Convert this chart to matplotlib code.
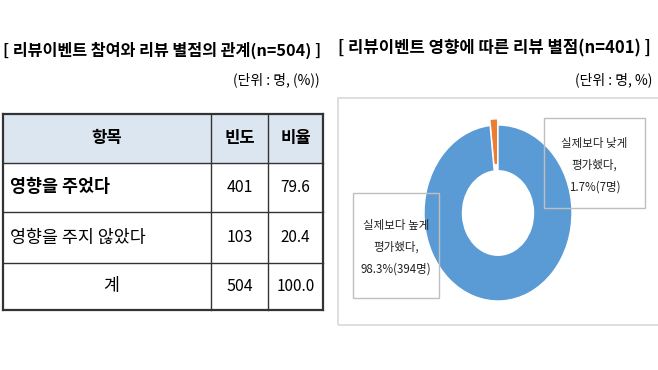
import matplotlib
matplotlib.use('Agg')
import matplotlib.pyplot as plt
from matplotlib.patches import Rectangle

plt.rcParams['font.family'] = ['Noto Sans CJK KR', 'DejaVu Sans']

# 표 데이터
table_header = ['항목', '빈도', '비율']
items = ['영향을 주었다', '영향을 주지 않았다', '계']
freq = [401, 103, 504]
ratio = [79.6, 20.4, 100.0]

# 도넛 데이터
pie_labels = ['실제보다 낮게\n평가했다,', '실제보다 높게\n평가했다,']
pie_pct = [1.7, 98.3]
pie_n = [7, 394]
pie_colors = ['#ed7d31', '#5b9bd5']

W, H = 658, 370
fig = plt.figure(figsize=(W / 100, H / 100), dpi=100)


def fx(x):
    return x / W


def fy(y):
    return 1 - y / H


# %% 제목
fig.text(fx(3), fy(50), '[ 리뷰이벤트 참여와 리뷰 별점의 관계(n=504) ]',
         fontsize=11.7, fontweight='bold', ha='left', va='center')
fig.text(fx(320), fy(80), '(단위 : 명, (%))', fontsize=10, ha='right', va='center')
fig.text(fx(338), fy(48), '[ 리뷰이벤트 영향에 따른 리뷰 별점(n=401) ]',
         fontsize=12, fontweight='bold', ha='left', va='center')
fig.text(fx(652), fy(80), '(단위 : 명, %)', fontsize=10, ha='right', va='center')

# %% 표
rows_y = [114, 163, 212, 263, 310]
cols_x = [3, 211, 268, 323]
ax_t = fig.add_axes([fx(cols_x[0]), fy(rows_y[-1]),
                     (cols_x[-1] - cols_x[0]) / W, (rows_y[-1] - rows_y[0]) / H])
ax_t.set_xlim(cols_x[0], cols_x[-1])
ax_t.set_ylim(rows_y[-1], rows_y[0])
ax_t.axis('off')
ax_t.add_patch(Rectangle((cols_x[0], rows_y[0]), cols_x[-1] - cols_x[0],
                         rows_y[1] - rows_y[0], color='#dce6f1', zorder=0))
for i, y in enumerate(rows_y):
    lw = 1.6 if i in (0, len(rows_y) - 1) else 1.0
    ax_t.plot([cols_x[0], cols_x[-1]], [y, y], color='#333333', lw=lw, clip_on=False)
for i, x in enumerate(cols_x):
    lw = 1.6 if i in (0, len(cols_x) - 1) else 1.0
    ax_t.plot([x, x], [rows_y[0], rows_y[-1]], color='#333333', lw=lw, clip_on=False)

col_c = [(cols_x[i] + cols_x[i + 1]) / 2 for i in range(3)]
row_c = [(rows_y[i] + rows_y[i + 1]) / 2 for i in range(4)]
for j, h in enumerate(table_header):
    ax_t.text(col_c[j], row_c[0], h, fontsize=12, fontweight='bold', ha='center', va='center')
for i, name in enumerate(items):
    y = row_c[i + 1]
    if i == len(items) - 1:
        ax_t.text(col_c[0] + 4, y, name, fontsize=12.5, ha='center', va='center')
    else:
        ax_t.text(10, y, name, fontsize=12.5, ha='left', va='center',
                  fontweight='bold' if i == 0 else 'normal')
    ax_t.text(col_c[1], y, f'{freq[i]}', fontsize=11.5, ha='center', va='center')
    ax_t.text(col_c[2], y, f'{ratio[i]:.1f}', fontsize=11, ha='center', va='center')

# %% 도넛 차트
fig.add_artist(Rectangle((fx(338), fy(325)), 340 / W, (325 - 98) / H,
                         transform=fig.transFigure, fill=False, ec='#d9d9d9', lw=1.2))
ax_p = fig.add_axes([fx(424), fy(301), 148 / W, 176 / H])
wedges, _ = ax_p.pie(pie_pct, colors=pie_colors, startangle=90, counterclock=True,
                     explode=[0.07, 0],
                     wedgeprops=dict(width=0.52, edgecolor='white', linewidth=1))
for w in wedges:
    w.set_clip_on(False)
ax_p.set_aspect('auto')
ax_p.set_xlim(-1, 1)
ax_p.set_ylim(-1, 1)
ax_p.axis('off')

# 라벨 상자
boxes = [(544, 118, 645, 208), (353, 193, 439, 298)]
for k, (x0, y0, x1, y1) in enumerate(boxes):
    fig.add_artist(Rectangle((fx(x0), fy(y1)), (x1 - x0) / W, (y1 - y0) / H,
                             transform=fig.transFigure, fill=False, ec='#bfbfbf', lw=1))
    txt = f'{pie_labels[k]}\n{pie_pct[k]}%({pie_n[k]}명)'
    fig.text(fx((x0 + x1) / 2), fy((y0 + y1) / 2 + 2), txt, fontsize=8.3,
             ha='center', va='center', linespacing=1.9, color='#222222')

fig.savefig('out.png', dpi=100)
